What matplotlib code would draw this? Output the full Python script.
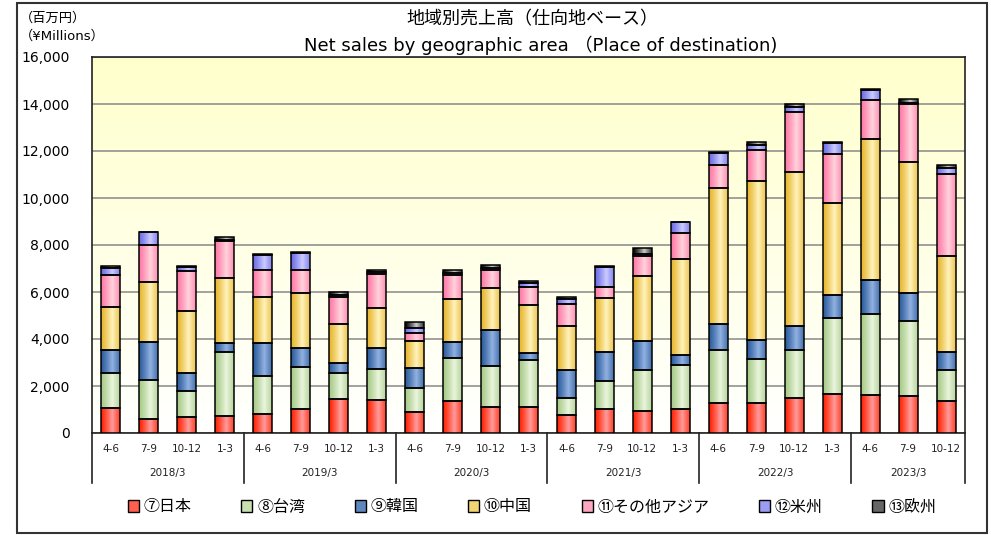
import numpy as np
import matplotlib
matplotlib.use('Agg')
import matplotlib.pyplot as plt
from matplotlib.patches import Rectangle, Patch
from matplotlib.colors import to_rgb

plt.rcParams['font.family'] = ['DejaVu Sans', 'Noto Sans CJK JP']
JP = ['Noto Sans CJK JP', 'DejaVu Sans']

# quarters and fiscal years
quarters = ['4-6', '7-9', '10-12', '1-3'] * 5 + ['4-6', '7-9', '10-12']
years = ['2018/3', '2019/3', '2020/3', '2021/3', '2022/3', '2023/3']
year_sizes = [4, 4, 4, 4, 4, 3]

# values (百万円)
japan = [1060, 610, 695, 720, 810, 1010, 1450, 1390,
         880, 1380, 1120, 1110, 780, 1020, 920, 1040,
         1290, 1260, 1500, 1670, 1620, 1590, 1350]
taiwan = [1480, 1630, 1090, 2710, 1600, 1790, 1090, 1350,
          1050, 1830, 1740, 2000, 720, 1180, 1770, 1840,
          2250, 1910, 2030, 3210, 3430, 3190, 1330]
korea = [980, 1645, 780, 400, 1430, 810, 420, 890,
         820, 680, 1530, 310, 1190, 1260, 1220, 450,
         1090, 790, 1040, 990, 1480, 1160, 780]
china = [1830, 2540, 2640, 2760, 1930, 2340, 1690, 1690,
         1150, 1820, 1770, 2010, 1860, 2270, 2770, 4070,
         5810, 6780, 6520, 3910, 6000, 5600, 4060]
other_asia = [1360, 1590, 1690, 1570, 1160, 980, 1140, 1460,
              340, 1030, 790, 770, 960, 470, 860, 1120,
              960, 1290, 2580, 2110, 1650, 2440, 3490]
america = [310, 520, 160, 40, 640, 710, 90, 50,
           210, 80, 90, 180, 180, 850, 90, 440,
           500, 240, 200, 430, 400, 80, 280]
europe = [70, 30, 40, 130, 60, 70, 100, 110,
          280, 100, 130, 100, 90, 60, 230, 30,
          60, 110, 130, 70, 40, 140, 110]

names = ['⑦日本', '⑧台湾', '⑨韓国', '⑩中国', '⑪その他アジア', '⑫米州', '⑬欧州']
series = [japan, taiwan, korea, china, other_asia, america, europe]
# (dark edge colour, light highlight colour)
colors = [('#FF2200', '#FF9C9C'), ('#A6CA86', '#EAF5DE'), ('#2C5C9C', '#92B2E2'),
          ('#E6B52C', '#FFF3BC'), ('#FF78A6', '#FFD4DC'), ('#6C6CE6', '#CCCCFF'),
          ('#000000', '#CCCCCC')]

fig = plt.figure(figsize=(9.91, 5.35), dpi=100)
ax = fig.add_axes([92/991, 1-433/535, (965-92)/991, (433-57)/535])

x = np.arange(len(quarters))
width = 0.5

# background gradient: light yellow at top to white at bottom
t = np.linspace(0, 1, 256)[:, None]
top = np.array(to_rgb('#FFFFCC'))
bg = np.ones((256, 1, 3)) * (t[..., None] * top + (1 - t[..., None]) * 1.0)
bg = bg[::-1]
ax.imshow(bg, extent=[0, 1, 0, 1], transform=ax.transAxes, aspect='auto', zorder=0)
ax.set_facecolor('none')

# horizontal shading profile for the bars
u = np.linspace(0, 1, 64)
prof = np.clip(1 - np.abs(u - 0.6) / 0.6, 0, 1) ** 1.2

bottoms = np.zeros(len(x))
for vals, (dark, light) in zip(series, colors):
    vals = np.array(vals, dtype=float)
    d = np.array(to_rgb(dark))
    l = np.array(to_rgb(light))
    grad = (d[None, :] * (1 - prof[:, None]) + l[None, :] * prof[:, None])[None, :, :]
    bars = ax.bar(x, vals, width, bottom=bottoms, color=dark, linewidth=0, zorder=3)
    for b in bars:
        im = ax.imshow(grad, extent=[b.get_x(), b.get_x() + b.get_width(),
                                     b.get_y(), b.get_y() + b.get_height()],
                       aspect='auto', zorder=3.1, interpolation='bilinear')
        im.set_clip_path(b)
    ax.bar(x, vals, width, bottom=bottoms, fill=False, edgecolor='black',
           linewidth=1.1, zorder=3.2)
    bottoms += vals

ax.set_xlim(-0.5, len(x) - 0.5)
ax.set_ylim(0, 16000)
ax.set_yticks(np.arange(0, 16001, 2000))
ax.set_yticklabels([f'{v:,}' for v in range(0, 16001, 2000)], fontsize=10)
ax.tick_params(axis='y', length=0, pad=16)
ax.yaxis.grid(True, color='#888888', linewidth=1.1, zorder=1)
ax.set_axisbelow(True)

ax.set_xticks(x)
ax.set_xticklabels(quarters, fontsize=7.5, color='#222222')
ax.tick_params(axis='x', length=0, pad=8)
for s in ax.spines.values():
    s.set_color('#222222')
    s.set_linewidth(1.2)

# second level of category axis: fiscal years with separators
trans = ax.get_xaxis_transform()
edge = -0.5
for yr, n in zip(years, year_sizes):
    ax.plot([edge, edge], [0, -0.133], transform=trans, color='#222222',
            linewidth=1.2, clip_on=False)
    ax.text(edge + n / 2, -0.107, yr, transform=trans, ha='center', va='center',
            fontsize=7.5, color='#222222')
    edge += n
ax.plot([edge, edge], [0, -0.133], transform=trans, color='#222222',
        linewidth=1.2, clip_on=False)

# titles and unit label
fig.text(532/991, 1-19/535, '地域別売上高（仕向地ベース）', ha='center', va='center',
         fontsize=13, family=JP)
fig.text(541/991, 1-45/535, 'Net sales by geographic area （Place of destination)',
         ha='center', va='center', fontsize=13)
fig.text(20/991, 1-18/535, '（百万円）', ha='left', va='center', fontsize=9.5, family=JP)
fig.text(20/991, 1-36/535, '（¥Millions）', ha='left', va='center', fontsize=9.5)

# legend
handles = [Patch(facecolor=tuple((np.array(to_rgb(d)) + np.array(to_rgb(l))) / 2),
                 edgecolor='black', linewidth=1) for d, l in colors]
fig.legend(handles, names, loc='center', bbox_to_anchor=(532/991, 1-507/535), ncol=7,
           frameon=False, prop={'family': JP, 'size': 11.5}, handlelength=0.7,
           handleheight=0.85, handletextpad=0.3, columnspacing=3.1)

# figure border
fig.patches.append(Rectangle((17/991, 2/535), (987-17)/991, (532-2)/535,
                             transform=fig.transFigure, fill=False,
                             edgecolor='#333333', linewidth=1.5))

fig.savefig('out.png', dpi=100)
